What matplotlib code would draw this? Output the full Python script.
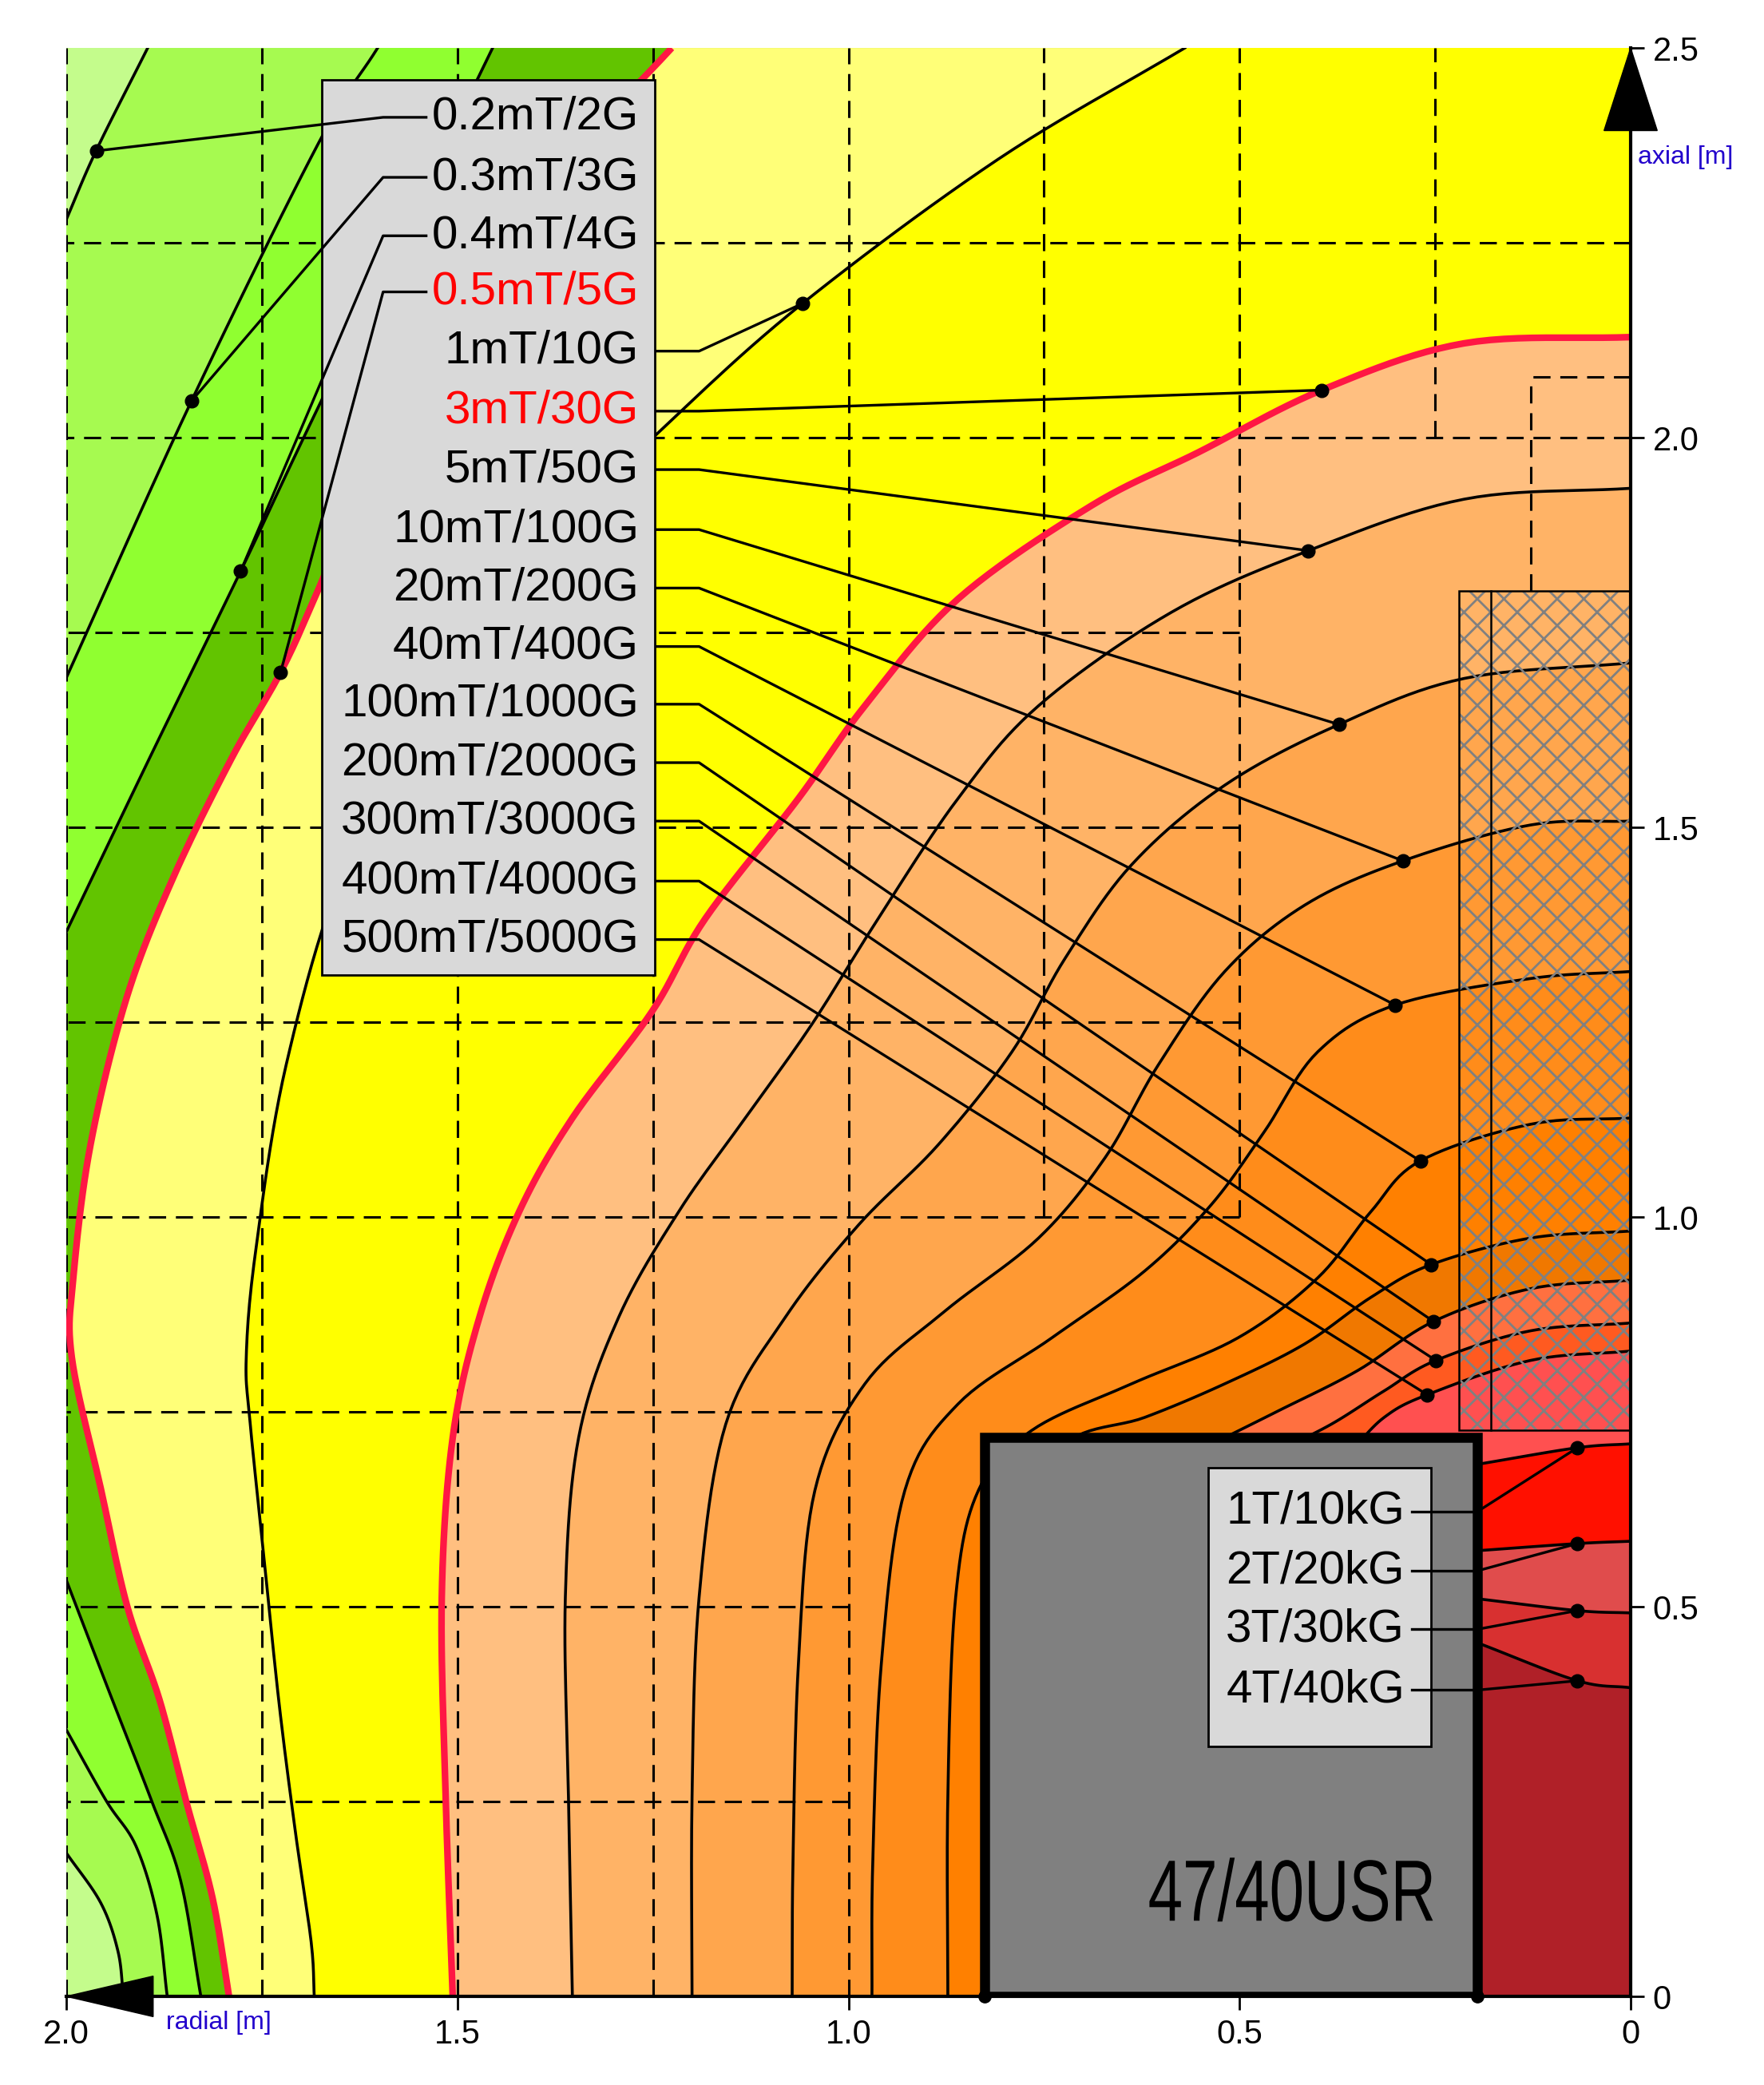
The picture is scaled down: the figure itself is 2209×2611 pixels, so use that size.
import matplotlib
matplotlib.use("Agg")
import matplotlib.pyplot as plt
import numpy as np
from matplotlib.patches import Polygon, Rectangle, PathPatch
from matplotlib.textpath import TextPath
from matplotlib.font_manager import FontProperties
from matplotlib.transforms import Affine2D, IdentityTransform

# ---------------- data (r [m], z [m]) ----------------
levels = ["0.2mT/2G", "0.3mT/3G", "0.4mT/4G", "0.5mT/5G", "1mT/10G", "3mT/30G", "5mT/50G",
          "10mT/100G", "20mT/200G", "40mT/400G", "100mT/1000G", "200mT/2000G", "300mT/3000G",
          "400mT/4000G", "500mT/5000G", "1T/10kG", "2T/20kG", "3T/30kG", "4T/40kG"]
fill_colors = ["#a6fa50", "#90ff30", "#62c400", "#ffff78", "#ffff00", "#ffbf80", "#ffb366",
               "#ffa64d", "#ff9933", "#ff8c1a", "#ff8000", "#f07800", "#ff7040", "#ff5a20",
               "#ff5050", "#ff1000", "#e04c4c", "#d83030", "#b02028"]
background_color = "#c4fc8c"
red_levels = ["0.5mT/5G", "3mT/30G"]
# contours whose last point is hidden under the magnet (not smoothed)
hidden_tail = ["200mT/2000G", "300mT/3000G", "400mT/4000G", "500mT/5000G",
               "1T/10kG", "2T/20kG", "3T/30kG", "4T/40kG"]

contours = [
    [[(1.896, 2.5), (1.962, 2.368), (2.0, 2.28)],
     [(2.0, 0.184), (1.956, 0.120), (1.934, 0.058), (1.927, 0.0)]],
    [[(1.602, 2.5), (1.677, 2.379), (1.840, 2.047), (2.0, 1.692)],
     [(2.0, 0.342), (1.949, 0.251), (1.911, 0.193), (1.884, 0.104), (1.871, 0.0)]],
    [[(1.455, 2.5), (1.677, 2.041), (1.777, 1.829), (1.894, 1.588), (2.0, 1.366)],
     [(2.0, 0.534), (1.946, 0.393), (1.891, 0.251), (1.854, 0.149), (1.828, 0.0)]],
    [[(1.226, 2.5), (1.404, 2.305), (1.574, 2.049), (1.677, 1.807), (1.726, 1.699), (1.789, 1.588),
      (1.864, 1.434), (1.923, 1.281), (1.969, 1.093), (1.991, 0.922), (1.993, 0.820), (1.956, 0.652),
      (1.922, 0.500), (1.881, 0.381), (1.847, 0.251), (1.813, 0.126), (1.792, 0.0)]],
    [[(0.570, 2.5), (0.809, 2.357), (1.059, 2.172), (1.234, 2.015), (1.370, 1.878), (1.523, 1.673),
      (1.643, 1.452), (1.719, 1.195), (1.758, 0.956), (1.770, 0.820), (1.765, 0.736), (1.748, 0.570),
      (1.728, 0.376), (1.707, 0.210), (1.687, 0.070), (1.683, 0.0)]],
    [[(0.0, 2.129), (0.213, 2.121), (0.395, 2.061), (0.553, 1.981), (0.689, 1.913), (0.860, 1.793),
      (0.979, 1.656), (1.064, 1.537), (1.183, 1.383), (1.251, 1.264), (1.353, 1.127), (1.421, 1.007),
      (1.472, 0.871), (1.506, 0.717), (1.520, 0.512), (1.515, 0.256), (1.506, 0.0)]],
    [[(0.0, 1.935), (0.213, 1.921), (0.412, 1.855), (0.587, 1.776), (0.757, 1.656), (0.860, 1.537),
      (0.962, 1.383), (1.047, 1.247), (1.132, 1.127), (1.217, 1.007), (1.294, 0.871), (1.345, 0.717),
      (1.362, 0.512), (1.358, 0.256), (1.353, 0.0)]],
    [[(0.0, 1.711), (0.213, 1.691), (0.373, 1.632), (0.519, 1.554), (0.638, 1.452), (0.723, 1.332),
      (0.791, 1.212), (0.885, 1.093), (0.987, 0.990), (1.081, 0.871), (1.157, 0.734), (1.191, 0.512),
      (1.2, 0.256), (1.2, 0.0)]],
    [[(0.0, 1.508), (0.128, 1.503), (0.291, 1.457), (0.417, 1.400), (0.519, 1.315), (0.604, 1.195),
      (0.672, 1.076), (0.757, 0.973), (0.877, 0.879), (0.979, 0.786), (1.043, 0.649), (1.064, 0.427),
      (1.071, 0.171), (1.072, 0.0)]],
    [[(0.0, 1.315), (0.128, 1.306), (0.301, 1.272), (0.4, 1.212), (0.468, 1.110), (0.536, 1.016),
      (0.621, 0.931), (0.740, 0.845), (0.860, 0.760), (0.928, 0.649), (0.958, 0.427), (0.969, 0.171),
      (0.970, 0.0)]],
    [[(0.0, 1.127), (0.128, 1.119), (0.269, 1.072), (0.332, 1.007), (0.4, 0.922), (0.502, 0.845),
      (0.638, 0.786), (0.766, 0.726), (0.834, 0.649), (0.863, 0.512), (0.873, 0.256), (0.873, 0.0)]],
    [[(0.0, 0.982), (0.128, 0.973), (0.255, 0.939), (0.332, 0.897), (0.417, 0.837), (0.519, 0.786),
      (0.621, 0.743), (0.723, 0.709), (0.791, 0.598), (0.791, 0.0)]],
    [[(0.0, 0.919), (0.128, 0.908), (0.252, 0.866), (0.349, 0.803), (0.451, 0.751), (0.553, 0.700),
      (0.638, 0.0)]],
    [[(0.0, 0.864), (0.128, 0.854), (0.249, 0.816), (0.315, 0.777), (0.383, 0.734), (0.451, 0.700),
      (0.468, 0.0)]],
    [[(0.0, 0.828), (0.128, 0.816), (0.260, 0.772), (0.315, 0.743), (0.357, 0.700), (0.383, 0.0)]],
    [[(0.0, 0.709), (0.068, 0.704), (0.194, 0.683), (0.3, 0.0)]],
    [[(0.0, 0.584), (0.068, 0.581), (0.194, 0.572), (0.3, 0.0)]],
    [[(0.0, 0.492), (0.068, 0.495), (0.194, 0.510), (0.3, 0.0)]],
    [[(0.0, 0.396), (0.068, 0.405), (0.194, 0.453), (0.3, 0.0)]],
]

legend1_z = [2.411, 2.334, 2.259, 2.187, 2.111, 2.034, 1.959, 1.882, 1.807, 1.732, 1.658,
             1.583, 1.508, 1.431, 1.356]
legend1_dots = [(1.961, 2.368), (1.840, 2.047), (1.777, 1.829), (1.726, 1.699), (1.059, 2.172),
                (0.395, 2.061), (0.412, 1.855), (0.373, 1.632), (0.291, 1.457), (0.301, 1.272),
                (0.269, 1.072), (0.255, 0.939), (0.252, 0.866), (0.249, 0.816), (0.260, 0.772)]
legend2_z = [0.622, 0.546, 0.471, 0.393]
legend2_dots = [(0.068, 0.704), (0.068, 0.581), (0.068, 0.495), (0.068, 0.405)]

magnet_r = (0.196, 0.826)
magnet_z = 0.717
magnet_name = "47/40USR"
cryo_r = (0.0, 0.219)
cryo_z = (0.726, 1.803)

x_ticks = [2.0, 1.5, 1.0, 0.5, 0.0]
x_ticklabels = ["2.0", "1.5", "1.0", "0.5", "0"]
y_ticks = [0.0, 0.5, 1.0, 1.5, 2.0, 2.5]
y_ticklabels = ["0", "0.5", "1.0", "1.5", "2.0", "2.5"]


def smooth(seg, n=12):
    """Catmull-Rom rendering of a read polyline (passes through every read point)."""
    p = np.asarray(seg, float)
    if len(p) < 3:
        return p
    ext = np.vstack([2 * p[0] - p[1], p, 2 * p[-1] - p[-2]])
    out = []
    for i in range(1, len(ext) - 2):
        p0, p1, p2, p3 = ext[i - 1], ext[i], ext[i + 1], ext[i + 2]
        for t in np.linspace(0, 1, n, endpoint=False):
            t2, t3 = t * t, t * t * t
            out.append(0.5 * ((2 * p1) + (-p0 + p2) * t + (2 * p0 - 5 * p1 + 4 * p2 - p3) * t2
                              + (-p0 + 3 * p1 - 3 * p2 + p3) * t3))
    out.append(p[-1])
    return np.array(out)


def render(name, seg):
    if name in hidden_tail:
        return np.vstack([smooth(seg[:-1]), [seg[-1]]])
    return smooth(seg)


plt.rcParams['font.family'] = ['Liberation Sans', 'DejaVu Sans']
plt.rcParams['hatch.linewidth'] = 2.0
fig = plt.figure(figsize=(22.09, 26.11), dpi=100)
ax = fig.add_axes([0.0376, 0.0425, 0.8868, 0.9345])
ax.set_xlim(2.0, 0.0)
ax.set_ylim(0.0, 2.5)
ax.set_facecolor(background_color)
for s in ["top", "left"]:
    ax.spines[s].set_visible(False)
ax.spines["right"].set_linewidth(3)
ax.spines["bottom"].set_linewidth(3)
ax.spines["right"].set_zorder(20)
ax.spines["bottom"].set_zorder(20)
ax.yaxis.tick_right()
ax.set_xticks(x_ticks)
ax.set_xticklabels(x_ticklabels)
ax.set_yticks(y_ticks)
ax.set_yticklabels(y_ticklabels)
ax.tick_params(axis="both", labelsize=30, width=2, length=12, pad=8)

smoothed = [[render(name, seg) for seg in segs] for name, segs in zip(levels, contours)]

for segs, col in zip(smoothed, fill_colors):
    pts = np.vstack(segs)
    if pts[0][1] >= 2.5:
        pts = np.vstack([pts, [(0.0, 0.0), (0.0, 2.5)]])
    else:
        pts = np.vstack([pts, [(0.0, 0.0)]])
    ax.add_patch(Polygon(pts, closed=True, facecolor=col, edgecolor="none", zorder=1))

dash = dict(color="black", lw=2.2, ls=(0, (7, 4)), zorder=3)
ax.plot([0, 2], [2.25, 2.25], **dash)
ax.plot([0, 2], [2.0, 2.0], **dash)
for z in [1.75, 1.5, 1.25, 1.0]:
    ax.plot([0.5, 2], [z, z], **dash)
for z in [0.75, 0.5, 0.25]:
    ax.plot([1.0, 2], [z, z], **dash)
for r in [2.0, 1.75, 1.5, 1.25, 1.0]:
    ax.plot([r, r], [0, 2.5], **dash)
for r in [0.75, 0.5]:
    ax.plot([r, r], [1.0, 2.5], **dash)
ax.plot([0.25, 0.25], [2.0, 2.5], **dash)
ax.plot([0.0, 0.128], [2.078, 2.078], **dash)
ax.plot([0.128, 0.128], [1.803, 2.078], **dash)

for name, segs in zip(levels, smoothed):
    for seg in segs:
        if name in red_levels:
            ax.plot(seg[:, 0], seg[:, 1], color="#ff1744", lw=6, zorder=5, solid_capstyle="butt")
        else:
            ax.plot(seg[:, 0], seg[:, 1], color="black", lw=2.6, zorder=4)

ax.add_patch(Rectangle((cryo_r[0], cryo_z[0]), cryo_r[1] - cryo_r[0], cryo_z[1] - cryo_z[0],
                       facecolor="none", edgecolor="#808080", hatch="x", lw=0, zorder=6))
ax.add_patch(Rectangle((cryo_r[0], cryo_z[0]), cryo_r[1] - cryo_r[0], cryo_z[1] - cryo_z[0],
                       facecolor="none", edgecolor="black", lw=1.8, zorder=6))
ax.plot([0.179, 0.179], [cryo_z[0], cryo_z[1]], color="black", lw=1.8, zorder=6)

ax.add_patch(Rectangle((magnet_r[0], 0), magnet_r[1] - magnet_r[0], magnet_z,
                       facecolor="#808080", edgecolor="black", lw=9, zorder=8))
# condensed magnet name (narrow, tall type as in the original)
tp = TextPath((0, 0), magnet_name, size=100, prop=FontProperties(family="Liberation Sans"))
bb = tp.get_extents()
cx, cy = ax.transData.transform((0.434, 0.137))
sx = 355.0 / bb.width
sy = 80.0 / bb.height
tr = Affine2D().translate(-(bb.x0 + bb.width / 2), -(bb.y0 + bb.height / 2)).scale(sx, sy).translate(cx, cy)
ax.add_patch(PathPatch(tr.transform_path(tp), transform=IdentityTransform(), facecolor="black",
                       edgecolor="none", zorder=9))
ax.plot([magnet_r[1], magnet_r[0]], [0, 0], "o", color="black", ms=11, zorder=21, clip_on=False)

ax.add_patch(Rectangle((1.248, 1.311), 1.673 - 1.248, 2.459 - 1.311,
                       facecolor="#d9d9d9", edgecolor="black", lw=2, zorder=10))
for i, (name, z, dot) in enumerate(zip(levels[:15], legend1_z, legend1_dots)):
    col = "#ff0000" if name in red_levels else "black"
    ax.text(1.268, z, name, fontsize=42, ha="right", va="center", color=col, zorder=12)
    if i < 4:
        ax.plot([1.54, 1.595, dot[0]], [z, z, dot[1]], color="black", lw=2.4, zorder=13)
    else:
        ax.plot([1.262, 1.191, dot[0]], [z, z, dot[1]], color="black", lw=2.4, zorder=7)
    ax.plot(dot[0], dot[1], "o", color="black", ms=12, zorder=13)

ax.add_patch(Rectangle((0.255, 0.321), 0.540 - 0.255, 0.678 - 0.321,
                       facecolor="#d9d9d9", edgecolor="black", lw=2, zorder=10))
for name, z, dot in zip(levels[15:], legend2_z, legend2_dots):
    ax.text(0.289, z, name, fontsize=42, ha="right", va="center", color="black", zorder=12)
    ax.plot([0.28, 0.196], [z, z], color="black", lw=2.4, zorder=12)
    ax.plot([0.196, dot[0]], [z, dot[1]], color="black", lw=2.4, zorder=7)
    ax.plot(dot[0], dot[1], "o", color="black", ms=12, zorder=7)

ax.add_patch(Polygon([(0.034, 2.394), (-0.034, 2.394), (0.0, 2.5)], closed=True,
                     facecolor="black", edgecolor="black", clip_on=False, zorder=22))
ax.add_patch(Polygon([(1.889, 0.026), (1.889, -0.026), (2.0, 0.0)], closed=True,
                     facecolor="black", edgecolor="black", clip_on=False, zorder=22))
ax.text(-0.009, 2.36, "axial [m]", fontsize=23, color="#2200cc", ha="left", va="center",
        clip_on=False)
ax.text(1.872, -0.034, "radial [m]", fontsize=23, color="#2200cc", ha="left", va="center",
        clip_on=False)

fig.savefig("out.png", dpi=100)
